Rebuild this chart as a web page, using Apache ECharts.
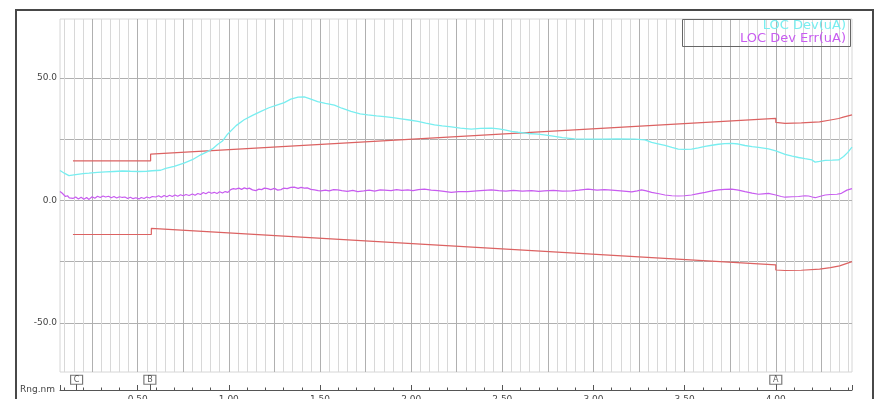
<!DOCTYPE html>
<html>
<head>
<meta charset="utf-8">
<script src="https://cdn.jsdelivr.net/npm/echarts@6/dist/echarts.min.js"></script>
<style>
  html, body { margin: 0; padding: 0; background: #fff; }
  #chart { width: 875px; height: 399px; }
</style>
</head>
<body>
<div id="chart"></div>
<script>
// Range axis (nm) extent and tick labels
const rangeMin = 0.074;
const rangeMax = 4.418;
const rangeLabels = [0.5, 1.0, 1.5, 2.0, 2.5, 3.0, 3.5, 4.0];
const valueLabels = [-50, 0, 50];
const valueGrid = [-50, -25, 0, 25, 50];

// Range markers on the bottom axis
const markerNames = ['C', 'B', 'A'];
const markerPos = [0.165, 0.567, 4.0];

// LOC Dev (uA): [range, value]
const locDev = [
  [0.074, 12.2], [0.10, 11.0], [0.123, 10.1], [0.15, 10.4], [0.20, 10.9], [0.233, 11.1],
  [0.28, 11.4], [0.324, 11.6], [0.37, 11.8], [0.416, 12.0], [0.46, 11.9], [0.507, 11.8],
  [0.55, 11.9], [0.58, 12.1], [0.626, 12.3], [0.654, 13.1], [0.70, 13.9], [0.754, 15.2],
  [0.80, 16.6], [0.846, 18.6], [0.88, 19.8], [0.91, 21.0], [0.938, 22.8], [0.965, 24.2],
  [0.993, 27.0], [1.04, 30.5], [1.084, 32.9], [1.13, 34.7], [1.176, 36.3], [1.22, 37.8],
  [1.267, 39.0], [1.304, 39.9], [1.34, 41.3], [1.38, 42.1], [1.414, 42.2], [1.45, 41.3],
  [1.487, 40.3], [1.53, 39.6], [1.579, 38.9], [1.62, 37.6], [1.67, 36.3], [1.72, 35.3],
  [1.762, 34.9], [1.81, 34.5], [1.853, 34.2], [1.90, 33.8], [1.945, 33.3], [1.99, 32.8],
  [2.037, 32.2], [2.08, 31.5], [2.128, 30.8], [2.17, 30.4], [2.22, 30.0], [2.27, 29.5],
  [2.33, 29.1], [2.38, 29.4], [2.44, 29.5], [2.48, 29.2], [2.513, 28.8], [2.55, 28.2],
  [2.586, 27.8], [2.64, 27.3], [2.696, 27.0], [2.73, 26.7], [2.769, 26.3], [2.83, 25.6],
  [2.897, 25.1], [2.97, 25.0], [3.044, 25.0], [3.13, 25.1], [3.227, 25.0], [3.282, 24.7],
  [3.319, 23.7], [3.36, 23.0], [3.392, 22.4], [3.43, 21.6], [3.465, 20.9], [3.50, 20.8],
  [3.538, 20.9], [3.575, 21.4], [3.612, 22.0], [3.65, 22.5], [3.685, 22.9], [3.72, 23.2],
  [3.758, 23.3], [3.795, 23.0], [3.831, 22.4], [3.87, 21.9], [3.905, 21.6], [3.96, 21.0],
  [4.00, 20.2], [4.051, 18.8], [4.09, 18.1], [4.125, 17.5], [4.16, 17.0], [4.198, 16.5],
  [4.216, 15.6], [4.24, 15.9], [4.271, 16.3], [4.31, 16.4], [4.345, 16.5], [4.372, 17.9],
  [4.395, 19.6], [4.418, 21.7]
];

// LOC Dev Err (uA): [range, value]
const locDevErr = [
  [0.074, 3.6], [0.085, 3.0], [0.095, 2.2], [0.104, 1.6], [0.115, 1.9], [0.125, 1.0],
  [0.135, 1.5], [0.145, 0.8], [0.16, 1.4], [0.175, 0.6], [0.19, 1.3], [0.205, 0.5],
  [0.22, 1.2], [0.233, 0.4], [0.25, 1.5], [0.265, 0.9], [0.28, 1.7], [0.295, 1.2],
  [0.31, 1.8], [0.324, 1.4], [0.34, 1.7], [0.355, 1.1], [0.37, 1.6], [0.385, 1.0],
  [0.40, 1.5], [0.416, 1.2], [0.43, 1.4], [0.445, 0.8], [0.46, 1.3], [0.475, 0.7],
  [0.49, 1.1], [0.507, 0.6], [0.52, 1.2], [0.535, 0.8], [0.55, 1.4], [0.565, 1.0],
  [0.58, 1.6], [0.599, 1.4], [0.615, 1.9], [0.63, 1.3], [0.645, 2.0], [0.66, 1.5],
  [0.675, 2.1], [0.69, 1.6], [0.705, 2.2], [0.72, 1.7], [0.735, 2.3], [0.75, 1.9],
  [0.765, 2.4], [0.782, 2.0], [0.80, 2.6], [0.815, 2.1], [0.83, 2.8], [0.845, 2.4],
  [0.86, 3.2], [0.874, 2.7], [0.89, 3.4], [0.905, 2.9], [0.92, 3.3], [0.935, 2.8],
  [0.95, 3.5], [0.965, 3.0], [0.98, 3.6], [0.995, 3.3], [1.01, 4.4], [1.025, 4.8],
  [1.038, 4.6], [1.055, 5.0], [1.07, 4.5], [1.085, 5.1], [1.10, 4.7], [1.112, 5.0],
  [1.13, 4.3], [1.148, 4.0], [1.165, 4.6], [1.18, 4.4], [1.195, 5.0], [1.213, 4.8],
  [1.23, 4.4], [1.25, 4.9], [1.268, 4.2], [1.286, 4.4], [1.30, 5.0], [1.32, 4.8],
  [1.34, 5.3], [1.359, 5.4], [1.38, 4.9], [1.396, 5.3], [1.414, 5.0], [1.43, 5.1],
  [1.45, 4.5], [1.47, 4.3], [1.49, 4.0], [1.505, 3.9], [1.53, 4.2], [1.55, 3.9],
  [1.575, 4.4], [1.597, 4.3], [1.62, 4.0], [1.65, 3.7], [1.68, 4.1], [1.707, 3.6],
  [1.74, 3.9], [1.77, 4.2], [1.80, 3.8], [1.83, 4.3], [1.853, 4.2], [1.89, 4.0],
  [1.92, 4.4], [1.95, 4.1], [1.982, 4.3], [2.01, 4.0], [2.04, 4.4], [2.073, 4.6],
  [2.11, 4.2], [2.147, 4.0], [2.18, 3.7], [2.22, 3.3], [2.26, 3.6], [2.31, 3.6],
  [2.36, 3.9], [2.40, 4.1], [2.44, 4.3], [2.48, 4.0], [2.52, 3.8], [2.56, 4.1],
  [2.61, 3.8], [2.66, 4.0], [2.70, 3.7], [2.73, 3.9], [2.78, 4.1], [2.83, 3.8],
  [2.88, 3.9], [2.92, 4.2], [2.97, 4.6], [3.02, 4.2], [3.06, 4.4], [3.10, 4.2],
  [3.15, 3.9], [3.21, 3.5], [3.24, 3.9], [3.264, 4.3], [3.29, 3.9], [3.319, 3.3],
  [3.36, 2.7], [3.392, 2.2], [3.43, 1.9], [3.465, 1.8], [3.50, 1.9], [3.538, 2.2],
  [3.575, 2.8], [3.612, 3.3], [3.65, 3.9], [3.685, 4.3], [3.72, 4.5], [3.758, 4.6],
  [3.795, 4.2], [3.831, 3.6], [3.87, 3.0], [3.905, 2.5], [3.93, 2.7], [3.96, 2.9],
  [4.00, 2.2], [4.03, 1.6], [4.051, 1.3], [4.09, 1.5], [4.125, 1.6], [4.16, 1.9],
  [4.18, 1.8], [4.20, 1.4], [4.216, 1.1], [4.24, 1.6], [4.271, 2.2], [4.30, 2.4],
  [4.335, 2.5], [4.36, 2.9], [4.39, 4.2], [4.418, 4.8]
];

// Limit envelope: [range, value]
const upperLimit = [
  [0.145, 16.1], [0.571, 16.1], [0.571, 18.9], [4.0, 33.5], [4.0, 31.8], [4.051, 31.4],
  [4.14, 31.6], [4.24, 32.0], [4.30, 32.8], [4.345, 33.4], [4.37, 34.0], [4.418, 34.9]
];
const lowerLimit = [
  [0.145, -13.9], [0.575, -13.9], [0.575, -11.4], [4.0, -26.3], [4.0, -28.4], [4.05, -28.6],
  [4.14, -28.5], [4.24, -28.0], [4.30, -27.4], [4.35, -26.7], [4.418, -25.0]
];

const devColor = '#78eef0';
const errColor = '#c85cf0';
const limitColor = '#dc6262';

// grid line positions: fine every 0.05 nm, coarse every 0.25 nm, ticks every 0.1 nm
function steps(from, to, step) {
  const out = [];
  for (let v = from; v <= to + 1e-9; v += step) out.push(Math.round(v * 1000) / 1000);
  return out;
}
const fineLines = steps(0.10, 4.40, 0.05);
const coarseLines = steps(0.25, 4.25, 0.25);
const minorTicks = steps(0.1, 4.4, 0.1);

const FONT = 'DejaVu Sans';
const chart = echarts.init(document.getElementById('chart'), null, { renderer: 'canvas' });

const hidden = { show: false };
const baseX = { type: 'value', min: rangeMin, max: rangeMax, axisLine: hidden, axisLabel: hidden };

chart.setOption({
  animation: false,
  backgroundColor: '#fff',
  textStyle: { fontFamily: FONT },
  grid: [
    { left: 60, right: 23, top: 19, height: 353, outerBoundsMode: 'none', containLabel: false, show: true, borderColor: '#d6d6d6', borderWidth: 1 },
    { left: 60, right: 23, top: 372, height: 18, outerBoundsMode: 'none', containLabel: false }
  ],
  xAxis: [
    Object.assign({}, baseX, {
      gridIndex: 0,
      axisTick: { show: false, customValues: fineLines },
      splitLine: { show: true, lineStyle: { color: '#d8d8d8', width: 1 } }
    }),
    Object.assign({}, baseX, {
      gridIndex: 0,
      axisTick: { show: false, customValues: coarseLines },
      splitLine: { show: true, lineStyle: { color: '#b0b0b0', width: 1 } }
    }),
    {
      type: 'value', gridIndex: 1, position: 'bottom', min: rangeMin, max: rangeMax,
      name: 'Rng.nm', nameLocation: 'start', nameGap: 5,
      nameTextStyle: { fontSize: 9, color: '#444', fontFamily: FONT },
      axisLine: { show: true, lineStyle: { color: '#555', width: 1 } },
      axisTick: { show: true, inside: true, length: 5, customValues: [rangeMin].concat(rangeLabels, [rangeMax]), lineStyle: { color: '#555' } },
      axisLabel: { show: true, customValues: rangeLabels, margin: 5, fontSize: 9, color: '#444', fontFamily: FONT, formatter: v => v.toFixed(2) },
      splitLine: hidden
    },
    Object.assign({}, baseX, {
      gridIndex: 1, position: 'bottom',
      axisTick: { show: true, inside: true, length: 2.5, customValues: minorTicks, lineStyle: { color: '#555' } },
      splitLine: hidden
    }),
    Object.assign({}, baseX, {
      gridIndex: 1, position: 'bottom',
      axisTick: { show: true, inside: true, length: 6, customValues: markerPos, lineStyle: { color: '#555' } },
      splitLine: hidden
    })
  ],
  yAxis: [
    {
      type: 'value', gridIndex: 0, min: -70, max: 74,
      axisLine: hidden,
      axisTick: { show: false, customValues: valueGrid },
      axisLabel: { show: true, customValues: valueLabels, margin: 3, fontSize: 9, color: '#444', fontFamily: FONT, formatter: v => v.toFixed(1) },
      splitLine: { show: true, lineStyle: { color: '#b0b0b0', width: 1 } }
    },
    { type: 'value', gridIndex: 1, min: 0, max: 1, show: false }
  ],
  legend: [
    {
      data: [{ name: 'LOC Dev(uA)', textStyle: { color: devColor } }],
      orient: 'vertical', right: 23, top: 19.5, padding: 0, itemWidth: 0, itemHeight: 0,
      align: 'right', selectedMode: false,
      textStyle: { fontSize: 13, lineHeight: 12, fontFamily: FONT }
    },
    {
      data: [{ name: 'LOC Dev Err(uA)', textStyle: { color: errColor } }],
      orient: 'vertical', right: 23, top: 32, padding: 0, itemWidth: 0, itemHeight: 0,
      align: 'right', selectedMode: false,
      textStyle: { fontSize: 13, lineHeight: 12, fontFamily: FONT }
    }
  ],
  graphic: [
    { type: 'rect', shape: { x: 16, y: 10, width: 857, height: 400 }, style: { fill: 'none', stroke: '#484848', lineWidth: 2 }, silent: true },
    { type: 'rect', shape: { x: 682.5, y: 19.5, width: 168, height: 27 }, style: { fill: 'none', stroke: '#666', lineWidth: 1 }, silent: true, z: 10 }
  ],
  series: [
    {
      name: 'Upper Limit', type: 'line', xAxisIndex: 0, yAxisIndex: 0, data: upperLimit,
      showSymbol: false, lineStyle: { color: limitColor, width: 1.2 }, itemStyle: { color: limitColor }, z: 3
    },
    {
      name: 'Lower Limit', type: 'line', xAxisIndex: 0, yAxisIndex: 0, data: lowerLimit,
      showSymbol: false, lineStyle: { color: limitColor, width: 1.2 }, itemStyle: { color: limitColor }, z: 3
    },
    {
      name: 'LOC Dev(uA)', type: 'line', xAxisIndex: 0, yAxisIndex: 0, data: locDev,
      showSymbol: false, lineStyle: { color: devColor, width: 1.3 }, itemStyle: { color: devColor }, z: 4
    },
    {
      name: 'LOC Dev Err(uA)', type: 'line', xAxisIndex: 0, yAxisIndex: 0, data: locDevErr,
      showSymbol: false, lineStyle: { color: errColor, width: 1.2 }, itemStyle: { color: errColor }, z: 4
    },
    {
      name: 'Markers', type: 'scatter', xAxisIndex: 2, yAxisIndex: 1,
      data: markerPos.map((p, i) => ({ value: [p, 0.57], name: markerNames[i] })),
      symbol: 'rect', symbolSize: [12, 9],
      itemStyle: { color: '#fff', borderColor: '#555', borderWidth: 1 },
      label: { show: true, position: 'inside', formatter: p => p.name, fontSize: 8, color: '#333', fontFamily: FONT },
      silent: true, z: 5
    }
  ]
});
</script>
</body>
</html>
